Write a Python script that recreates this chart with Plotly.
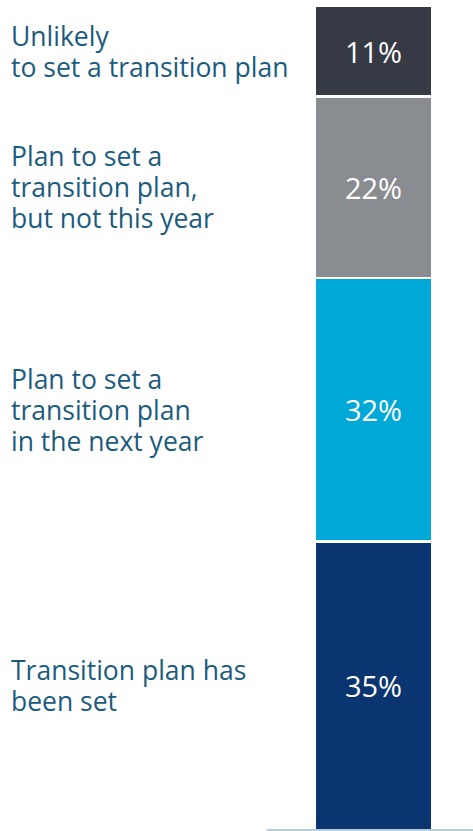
import plotly.graph_objects as go

# Share of respondents by transition-plan status (stacked bottom to top)
categories = [
    "Transition plan has<br>been set",
    "Plan to set a<br>transition plan<br>in the next year",
    "Plan to set a<br>transition plan,<br>but not this year",
    "Unlikely<br>to set a transition plan",
]
shares = [35, 32, 22, 11]
colors = ["#0a3571", "#00a8d8", "#898c90", "#353a45"]

LABEL_COLOR = "#1b5b7d"
FONT = "Open Sans"
LINE_GAP = 31  # px between label lines

fig = go.Figure()
for cat, val, col in zip(categories, shares, colors):
    fig.add_trace(go.Bar(
        x=[0], y=[val], name=cat.replace("<br>", " "),
        width=1.02,
        marker=dict(color=col, line=dict(color="white", width=2.5)),
        text=[f"{val}%"], textposition="inside", insidetextanchor="middle",
        textfont=dict(family=FONT, size=29, color="white"),
        hoverinfo="skip",
    ))

# Category labels on the left, centred on each segment, one annotation per line
base = 0
for cat, val in zip(categories, shares):
    lines = cat.split("<br>")
    n = len(lines)
    for i, line in enumerate(lines):
        fig.add_annotation(
            xref="paper", yref="y", x=0.019, y=base + val / 2,
            yshift=((n - 1) / 2 - i) * LINE_GAP,
            text=line, showarrow=False, xanchor="left", yanchor="middle", align="left",
            font=dict(family=FONT, size=26.5, color=LABEL_COLOR),
        )
    base += val

# Baseline under the bar
fig.add_shape(type="line", xref="x", yref="y", x0=-0.93, x1=0.87, y0=0, y1=0,
              line=dict(color="#9dbccb", width=1.5))

fig.update_layout(
    width=473, height=831,
    margin=dict(l=0, r=0, t=0, b=0),
    barmode="stack", showlegend=False,
    plot_bgcolor="white", paper_bgcolor="white",
    xaxis=dict(range=[-3.248, 0.865], visible=False, fixedrange=True),
    yaxis=dict(range=[-0.121, 100.728], visible=False, fixedrange=True),
)

fig.write_html("out.html")
